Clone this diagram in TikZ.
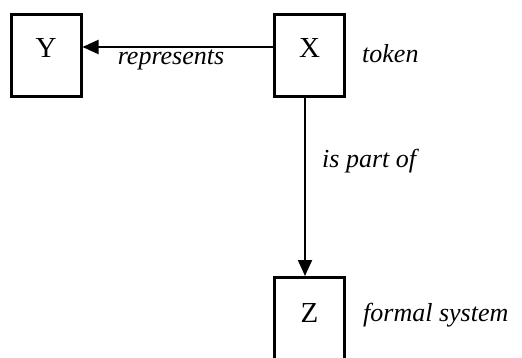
\documentclass[tikz,border=0pt]{standalone}
\usepackage{fontspec}
\setmainfont{Liberation Serif}
\usetikzlibrary{arrows.meta}
\begin{document}
\begin{tikzpicture}[x=1pt,y=-1pt,
  box/.style={draw=black,line width=3pt,minimum width=70pt,minimum height=82pt,inner sep=0pt},
  lbl/.style={anchor=base,inner sep=0pt,font=\fontsize{29}{32}\selectfont},
  itl/.style={anchor=base west,inner sep=0pt,font=\fontsize{26}{30}\selectfont\itshape},
  conn/.style={line width=2pt,-{Triangle[length=16pt,width=14pt]}}]
\useasboundingbox (0,0) rectangle (522,358);
\node[box] (Y) at (46,55.5) {};
\node[box] (X) at (309.5,55.5) {};
\node[box] (Z) at (309.5,318.5) {};
\node[lbl] (ly) at ([yshift=-2.5pt]Y.center) {Y};
\node[lbl] (lx) at ([yshift=-2.5pt]X.center) {X};
\node[lbl] (lz) at ([yshift=-3.5pt]Z.center) {Z};
\draw[conn] ([yshift=8.5pt]X.west) -- ([yshift=8.5pt]Y.east);
\draw[conn] ([xshift=-4.5pt]X.south) -- ([xshift=-4.5pt]Z.north);
\node[anchor=base,inner sep=0pt,font=\fontsize{26}{30}\selectfont\itshape] (rep) at (171,65) {represents};
\node[itl] (tok) at (362,63) {token};
\node[itl] (ipo) at (322,168) {is part of};
\node[itl] (fs) at (363,321) {formal system};
\end{tikzpicture}
\end{document}
